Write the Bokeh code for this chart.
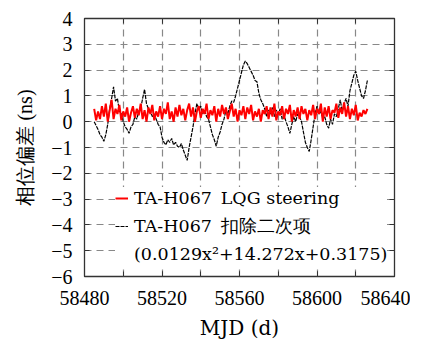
from bokeh.plotting import figure
from bokeh.models import (FixedTicker, LinearAxis, Legend, LegendItem, Range1d)
from bokeh.embed import file_html
from bokeh.resources import INLINE

# ---- data ----
mjd_start = 58485
black_vals = [0.0, -0.15, -0.3, -0.5, -0.6, -0.76, -0.5, -0.1, 0.5, 0.9,
              1.35, 0.8, 0.9, 0.4, 0.3, 0.0, -0.2, -0.3, -0.45, -0.2,
              -0.1, 0.2, 0.1, 0.4, 0.5, 0.9, 1.25, 0.7, 0.5, 0.4,
              0.2, 0.3, 0.1, -0.1, -0.2, -0.6, -0.8, -0.9, -0.7, -0.8,
              -0.65, -0.9, -0.8, -0.95, -1.0, -0.85, -1.1, -1.3, -1.5, -1.0,
              -0.6, -0.2, 0.3, 0.7, 0.5, 0.6, 0.3, 0.45, 0.2, 0.1,
              -0.2, -0.5, -0.7, -0.95, -0.6, -0.4, -0.1, 0.1, 0.45, 0.3,
              0.6, 0.8, 0.75, 1.0, 1.3, 1.6, 1.9, 2.2, 2.35, 2.25,
              2.1, 1.95, 1.8, 1.6, 1.55, 1.1, 0.85, 0.7, 0.5, 0.2,
              0.45, 0.3, 0.55, 0.2, 0.45, 0.3, 0.5, 0.1, 0.25, 0.0,
              -0.2, -0.45, -0.1, 0.2, 0.0, 0.3, 0.2, 0.0, -0.4, -0.8,
              -1.0, -1.15, -0.7, -0.2, 0.3, 0.6, 0.3, 0.4, 0.1, 0.2,
              -0.1, -0.25, 0.1, -0.1, 0.3, 0.2, 0.5, 0.85, 0.4, 0.7,
              0.9, 0.6, 1.2, 1.5, 1.8, 1.95, 1.6, 1.3, 1.0, 0.9,
              1.2, 1.6]
red_vals = [0.5, 0.05, 0.4, 0.1, 0.6, 0.2, 0.7, 0.0, 0.45, 0.85,
            0.1, 0.5, 0.3, 0.65, 0.05, 0.4, 0.2, 0.55, 0.0, 0.35,
            0.6, 0.15, 0.5, 0.25, 0.7, 0.1, 0.45, 0.0, 0.55, 0.3,
            0.65, 0.05, 0.4, 0.2, 0.6, 0.1, 0.5, 0.3, 0.75, 0.1,
            0.4, 0.0, 0.55, 0.2, 0.65, 0.25, 0.5, 0.05, 0.45, 0.7,
            0.2, 0.55, 0.0, 0.4, 0.6, 0.15, 0.5, 0.3, 0.7, 0.1,
            0.45, 0.25, 0.6, 0.0, 0.5, 0.2, 0.65, 0.3, 0.55, 0.1,
            0.4, 0.7, 0.2, 0.5, 0.0, 0.45, 0.25, 0.6, 0.1, 0.55,
            0.3, 0.65, 0.05, 0.4, 0.2, 0.5, 0.0, 0.45, 0.3, 0.6,
            0.1, 0.55, 0.2, 0.7, 0.05, 0.4, 0.25, 0.6, 0.1, 0.5,
            0.3, 0.65, 0.0, 0.45, 0.2, 0.55, 0.1, 0.6, 0.3, 0.5,
            0.05, 0.45, 0.25, 0.65, 0.1, 0.5, 0.3, 0.7, 0.0, 0.55,
            0.2, 0.6, 0.1, 0.45, 0.35, 0.7, 0.15, 0.55, 0.3, 0.75,
            0.2, 0.6, 0.1, 0.5, 0.25, 0.65, 0.05, 0.35, 0.2, 0.45,
            0.3, 0.5]
x_ticks = [58480, 58520, 58560, 58600, 58640]
x_grid = [58480, 58500, 58520, 58540, 58560, 58580, 58600, 58620, 58640]
y_ticks = [-6, -5, -4, -3, -2, -1, 0, 1, 2, 3, 4]
label_red = "TA-H067\u2002LQG steering"
label_black = "TA-H067\u2002扣除二次项"
label_poly = "(0.0129x²+14.272x+0.3175)"

black_x = [mjd_start + i for i in range(len(black_vals))]
red_x = [mjd_start + i for i in range(len(red_vals))]

FONT = "Liberation Serif"
WIDE = "DejaVu Serif"

p = figure(width=410, height=342, output_backend="svg", toolbar_location=None,
           x_range=Range1d(58480, 58640), y_range=Range1d(-6, 4),
           min_border_left=84, min_border_top=18, min_border_right=16, min_border_bottom=40)
p.outline_line_color = "#333333"
p.outline_line_width = 1.3

# grid
p.xgrid.ticker = FixedTicker(ticks=x_grid)
p.ygrid.ticker = FixedTicker(ticks=y_ticks)
for g in (p.xgrid, p.ygrid):
    g.grid_line_color = "#888888"
    g.grid_line_dash = "7 5"
    g.grid_line_width = 1.2

# axes
xa = p.xaxis[0]
ya = p.yaxis[0]
xa.ticker = FixedTicker(ticks=x_ticks, minor_ticks=x_grid)
ya.ticker = FixedTicker(ticks=y_ticks)
ya.major_label_overrides = {t: (str(t).replace("-", "\u2212")) for t in y_ticks}
for ax in (xa, ya):
    ax.axis_line_color = None
    ax.major_tick_in = 5
    ax.major_tick_out = 0
    ax.minor_tick_in = 5
    ax.minor_tick_out = 0
    ax.major_tick_line_color = "#333333"
    ax.minor_tick_line_color = "#333333"
    ax.major_label_text_font = FONT
    ax.major_label_text_font_size = "20px"
    ax.major_label_text_color = "black"
    ax.axis_label_text_font_size = "20px"
    ax.axis_label_text_font_style = "normal"
    ax.axis_label_text_color = "black"
ya.minor_tick_line_color = None
xa.axis_label_text_font = WIDE
ya.axis_label_text_font = FONT
xa.major_label_standoff = 14
ya.major_label_standoff = 12
xa.axis_label = "MJD (d)"
ya.axis_label = "相位偏差 (ns)"
xa.axis_label_standoff = 8
ya.axis_label_standoff = 12

ax_top = LinearAxis(ticker=FixedTicker(ticks=x_ticks, minor_ticks=x_grid))
ax_right = LinearAxis(ticker=FixedTicker(ticks=y_ticks))
ax_top.major_label_overrides = {t: "" for t in x_ticks}
ax_right.major_label_overrides = {t: "" for t in y_ticks}
for ax in (ax_top, ax_right):
    ax.axis_line_color = None
    ax.major_tick_in = 5
    ax.major_tick_out = 0
    ax.minor_tick_in = 5
    ax.minor_tick_out = 0
    ax.major_tick_line_color = "#333333"
    ax.minor_tick_line_color = "#333333"
    ax.major_label_standoff = 0
    ax.major_label_text_font_size = "1px"
ax_right.minor_tick_line_color = None
p.add_layout(ax_top, "above")
p.add_layout(ax_right, "right")

# data
r_black = p.line(black_x, black_vals, line_color="black", line_width=1.2, line_dash="4 1")
r_red = p.line(red_x, red_vals, line_color="#ff0000", line_width=2)
r_dummy = p.line([58480], [0], line_alpha=0)

legend = Legend(items=[LegendItem(label=label_red, renderers=[r_red]),
                       LegendItem(label=label_black, renderers=[r_black]),
                       LegendItem(label=label_poly, renderers=[r_dummy])],
                location=(31, 11))
legend.background_fill_color = "white"
legend.background_fill_alpha = 1
legend.border_line_color = None
legend.label_text_font = WIDE
legend.label_text_font_size = "17.5px"
legend.label_text_color = "black"
legend.glyph_width = 13
legend.glyph_height = 22
legend.label_height = 22
legend.spacing = 5
legend.padding = 5
legend.margin = 0
legend.label_standoff = 6
p.add_layout(legend, "center")

open("out.html", "w").write(file_html(p, INLINE))
